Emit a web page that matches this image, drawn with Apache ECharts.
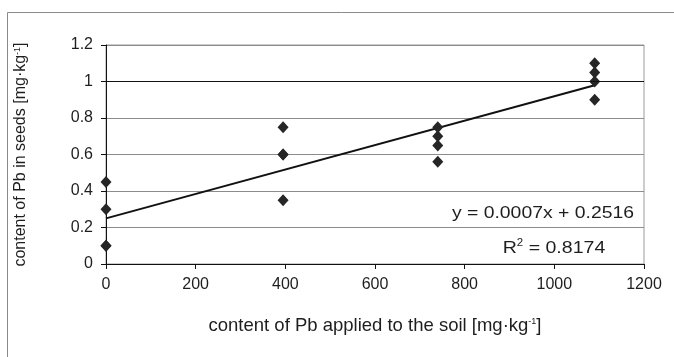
<!DOCTYPE html>
<html>
<head>
<meta charset="utf-8">
<script src="https://cdn.jsdelivr.net/npm/echarts@6/dist/echarts.min.js"></script>
<style>
  html, body { margin: 0; padding: 0; background: #fff; }
  #chart { width: 674px; height: 357px; }
</style>
</head>
<body>
<div id="chart"></div>
<script>
// Pb applied to the soil (mg/kg) and Pb measured in seeds (mg/kg)
const pbSoil  = [0, 0, 0, 0, 395, 395, 395, 395, 740, 740, 740, 740, 1090, 1090, 1090, 1090];
const pbSeeds = [0.45, 0.30, 0.10, 0.10, 0.75, 0.60, 0.60, 0.35, 0.75, 0.70, 0.65, 0.56, 1.10, 1.05, 1.00, 0.90];

const xTicks = [0, 200, 400, 600, 800, 1000, 1200];
const yTicks = [0, 0.2, 0.4, 0.6, 0.8, 1, 1.2];

const equationText = 'y = 0.0007x + 0.2516';
const r2Value = '0.8174';

// least-squares line through the measurements
function linearFit(xs, ys) {
  const n = xs.length;
  const mx = xs.reduce((a, b) => a + b, 0) / n;
  const my = ys.reduce((a, b) => a + b, 0) / n;
  let sxy = 0, sxx = 0;
  for (let i = 0; i < n; i++) {
    sxy += (xs[i] - mx) * (ys[i] - my);
    sxx += (xs[i] - mx) * (xs[i] - mx);
  }
  const slope = sxy / sxx;
  return { slope, intercept: my - slope * mx };
}
const fit = linearFit(pbSoil, pbSeeds);
const xMin = Math.min(...pbSoil), xMax = Math.max(...pbSoil);
const trend = [[xMin, fit.intercept + fit.slope * xMin], [xMax, fit.intercept + fit.slope * xMax]];

const points = pbSoil.map((x, i) => [x, pbSeeds[i]]);

const font = 'Liberation Sans, Arial, sans-serif';
const ink = '#1e1e1e';
const chart = echarts.init(document.getElementById('chart'), null, { renderer: 'canvas' });

chart.setOption({
  animation: false,
  backgroundColor: '#fff',
  grid: { left: 106, top: 45, right: 30, bottom: 93, show: true, borderColor: '#9a9a9a', borderWidth: 1 },
  xAxis: {
    type: 'value', min: 0, max: 1200, interval: 200,
    name: '{t|content of Pb applied to the soil [mg·kg}{s|-1}{t|]}',
    nameLocation: 'middle', nameGap: 52,
    nameTextStyle: { rich: {
      t: { fontFamily: font, fontSize: 18.5, color: ink },
      s: { fontFamily: font, fontSize: 9, color: ink, padding: [0, 0, 8, 0] } } },
    axisLine: { lineStyle: { color: '#111', width: 1 } },
    axisTick: { show: true, length: 5, inside: false, lineStyle: { color: '#111' } },
    axisLabel: { fontFamily: font, fontSize: 16, color: ink, margin: 13,
      customValues: xTicks, formatter: v => String(v) },
    splitLine: { show: false }
  },
  yAxis: {
    type: 'value', min: 0, max: 1.2, interval: 0.2,
    name: '{t|content of Pb in seeds [mg·kg}{s|-1}{t|]}',
    nameLocation: 'middle', nameGap: 77, nameRotate: 90,
    nameTextStyle: { rich: {
      t: { fontFamily: font, fontSize: 16, color: ink },
      s: { fontFamily: font, fontSize: 9, color: ink, padding: [0, 0, 7, 0] } } },
    axisLine: { show: true, lineStyle: { color: '#111', width: 1 } },
    axisTick: { show: true, length: 5, inside: false, lineStyle: { color: '#111' } },
    axisLabel: { fontFamily: font, fontSize: 16, color: ink, margin: 13,
      customValues: yTicks, formatter: v => String(Math.round(v * 10) / 10) },
    splitLine: { show: true, lineStyle: { color: '#8c8c8c', width: 1 } }
  },
  series: [
    {
      type: 'line', data: trend, symbol: 'none', silent: true,
      lineStyle: { color: '#111', width: 2 },
      markLine: {
        silent: true, symbol: 'none', label: { show: false },
        lineStyle: { color: '#111', width: 1, type: 'solid' },
        data: [{ yAxis: 1 }]
      },
      z: 3
    },
    {
      type: 'scatter', data: points, symbol: 'diamond', symbolSize: [11, 12],
      itemStyle: { color: '#262626', opacity: 1 }, z: 4
    }
  ],
  graphic: [
    { type: 'rect', shape: { x: 7.5, y: 12.5, width: 700, height: 400 },
      style: { fill: 'none', stroke: '#8a8a8a', lineWidth: 1 }, silent: true, z: -1 },
    { type: 'text', x: 634, y: 213, scaleX: 1.14,
      style: { text: equationText, font: '17px ' + font, fill: ink,
        textAlign: 'right', textVerticalAlign: 'middle' } },
    { type: 'text', x: 554, y: 248, scaleX: 1.15,
      style: { text: '{t|R}{s|2}{t| = ' + r2Value + '}', textAlign: 'center', textVerticalAlign: 'middle',
        rich: { t: { font: '17px ' + font, fill: ink }, s: { font: '10px ' + font, fill: ink, padding: [0, 0, 9, 0] } } } }
  ]
});
</script>
</body>
</html>
